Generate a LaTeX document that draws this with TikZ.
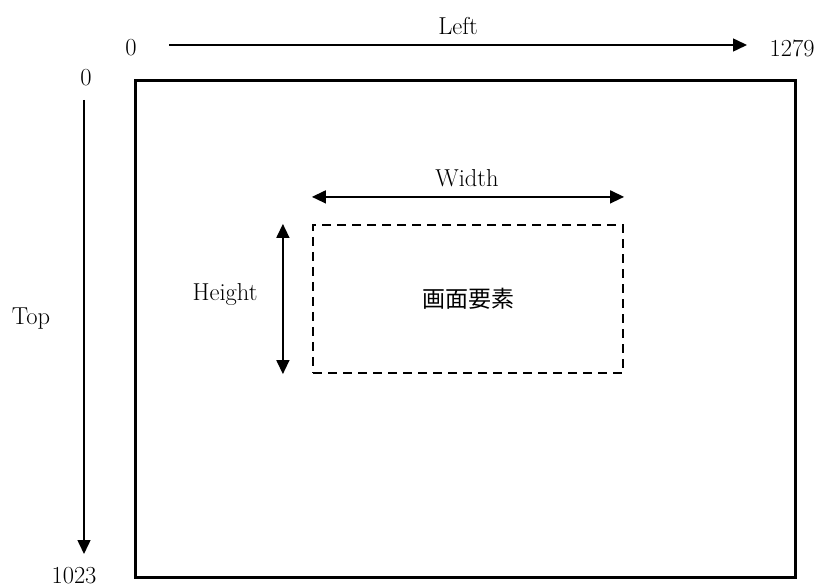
\documentclass[tikz,border=0pt]{standalone}
\usepackage{fontspec}
\newfontfamily\jpfont{Noto Sans CJK JP}
\usetikzlibrary{arrows.meta}

\begin{document}
\begin{tikzpicture}[
    x=1pt, y=-1pt,
    % Tela inteira
    tela/.style={
        draw, line width=3pt, minimum width=660pt,
        minimum height=496pt, inner sep=0pt
    },
    % Elemento tracejado
    elem/.style={
        draw, line width=2.2pt, dash pattern=on 9pt off 6pt,
        minimum width=310pt, minimum height=148pt,
        font=\fontsize{23}{27}\selectfont\jpfont
    },
    rot/.style={font=\fontsize{24.5}{28}\selectfont, inner sep=0pt},
    seta/.style={draw, line width=1.5pt, -{Triangle[length=14pt,width=13pt]}},
    seta2/.style={draw, line width=1.5pt, {Triangle[length=14pt,width=13pt]}-{Triangle[length=14pt,width=13pt]}}
]
\useasboundingbox (0,0) rectangle (823,588);

% ---- TELA ----
\node[tela] (tela) at (465, 329) {};

% ---- EIXO HORIZONTAL ----
\coordinate (left_ini) at (169, 45);
\coordinate (left_fim) at (747, 45);
\draw[seta] (left_ini) -- (left_fim);
\node[rot] (left_lbl) at (458, 26) {Left};
\node[rot] (x_zero)   at (131, 48) {0};
\node[rot] (x_max)    at (792, 48) {1279};

% ---- EIXO VERTICAL ----
\coordinate (top_ini) at (84, 100);
\coordinate (top_fim) at (84, 554);
\draw[seta] (top_ini) -- (top_fim);
\node[rot] (top_lbl) at (31, 319) {Top};
\node[rot] (y_zero)  at (86, 78) {0};
\node[rot] (y_max)   at (74, 576) {1023};

% ---- ELEMENTO ----
\node[elem] (elem) at (468, 299) {画面要素};

\coordinate (w_ini) at ([yshift=27pt]elem.north west);
\coordinate (w_fim) at ([yshift=27pt]elem.north east);
\draw[seta2] (w_ini) -- (w_fim);
\node[rot] (w_lbl) at (467, 178) {Width};

\coordinate (h_ini) at ([xshift=-29pt]elem.north west);
\coordinate (h_fim) at ([xshift=-29pt]elem.south west);
\draw[seta2] (h_ini) -- (h_fim);
\node[rot] (h_lbl) at (225, 294) {Height};

\end{tikzpicture}
\end{document}
